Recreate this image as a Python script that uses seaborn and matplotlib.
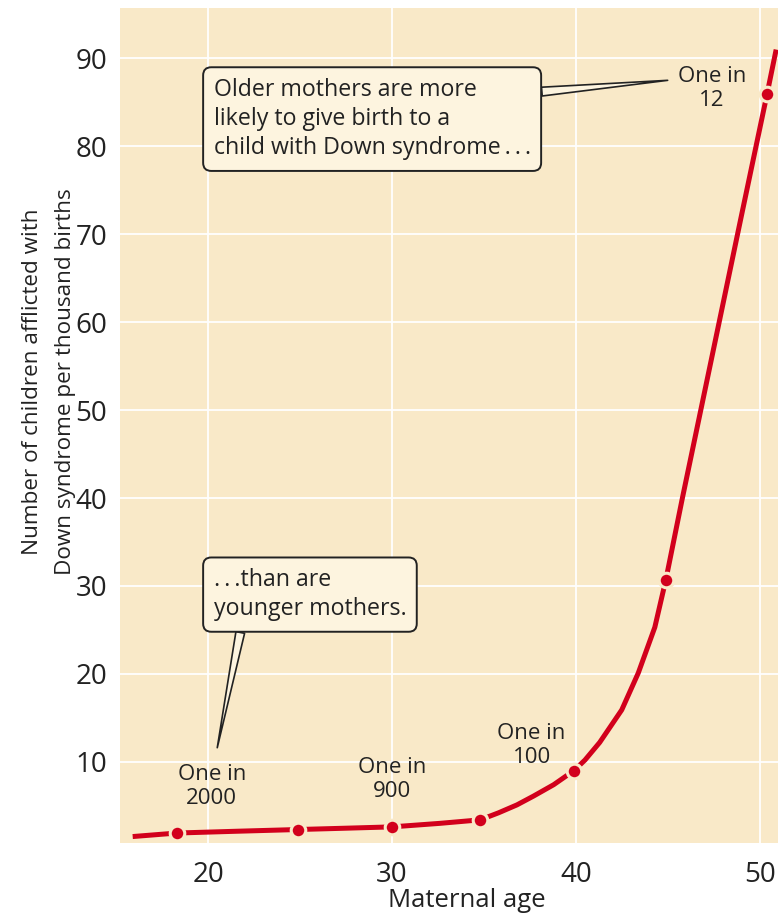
import matplotlib
matplotlib.use("Agg")
import matplotlib.pyplot as plt
import seaborn as sns
import pandas as pd

# curve (maternal age, cases per thousand births)
curve_age = [15.9, 18.3, 21.5, 24.9, 27.5, 30.0, 32.6, 34.8, 35.8, 36.8, 37.7,
             38.8, 39.9, 40.5, 41.3, 42.5, 43.4, 44.3, 44.9, 45.8, 46.8, 47.9,
             49.0, 50.4, 50.9]
curve_rate = [1.5, 1.9, 2.1, 2.3, 2.45, 2.6, 3.0, 3.4, 4.2, 5.1, 6.1,
              7.4, 9.0, 10.2, 12.2, 15.9, 20.1, 25.3, 30.7, 40.0, 50.0, 61.0,
              72.0, 85.9, 91.0]

# marked points on the curve
dot_age = [18.3, 24.9, 30.0, 34.8, 39.9, 44.9, 50.4]
dot_rate = [1.9, 2.3, 2.6, 3.4, 9.0, 30.7, 85.9]

# "One in ..." labels
odds_text = ["One in\n2000", "One in\n900", "One in\n100", "One in\n12"]
odds_x = [20.2, 30.0, 37.6, 47.4]
odds_y = [7.2, 8.0, 11.9, 86.6]

x_ticks = [20, 30, 40, 50]
y_ticks = [10, 20, 30, 40, 50, 60, 70, 80, 90]

BG = "#f9e9c8"
BOX = "#fdf4df"
RED = "#d2001c"
INK = "#222222"
DOTS = "\u2009.\u2009.\u2009."

sns.set_style("whitegrid", {"axes.facecolor": BG, "grid.color": "white",
                            "axes.edgecolor": BG})
plt.rcParams["font.family"] = ["Open Sans", "DejaVu Sans"]

curve = pd.DataFrame({"age": curve_age, "rate": curve_rate})
dots = pd.DataFrame({"age": dot_age, "rate": dot_rate})

fig = plt.figure(figsize=(7.78, 9.14), dpi=100)
ax = fig.add_axes([0.154, 0.078, 0.846, 0.913])

sns.lineplot(data=curve, x="age", y="rate", color=RED, linewidth=3.6,
             ax=ax, zorder=3, clip_on=False,
             solid_joinstyle="round", solid_capstyle="butt")
sns.scatterplot(data=dots, x="age", y="rate", color=RED, s=110,
                edgecolor=BG, linewidth=2.2, ax=ax, zorder=4, clip_on=False)

ax.set_xlim(15.2, 51.0)
ax.set_ylim(0.8, 95.7)
ax.set_xticks(x_ticks)
ax.set_yticks(y_ticks)
ax.grid(True, color="white", linewidth=1.3)
ax.tick_params(axis="both", length=0, labelsize=20, colors=INK)
ax.tick_params(axis="x", pad=13)
ax.tick_params(axis="y", pad=9)
for s in ax.spines.values():
    s.set_visible(False)

ax.set_xlabel("Maternal age", fontsize=18.5, color=INK)
ax.xaxis.set_label_coords(0.527, -0.054)
ax.set_ylabel("Number of children afflicted with\nDown syndrome per thousand births",
              fontsize=16.2, color=INK, linespacing=1.75)
ax.yaxis.set_label_coords(-0.066, 0.552)

for t, x, y in zip(odds_text, odds_x, odds_y):
    ax.text(x, y, t, ha="center", va="center", fontsize=16,
            color=INK, linespacing=1.2, zorder=5)

box_style = dict(boxstyle="round,pad=0.45,rounding_size=0.35", fc=BOX,
                 ec=INK, lw=1.4)
wedge = dict(arrowstyle="wedge,tail_width=0.38,shrink_factor=0.5", fc=BOX,
             ec=INK, lw=1.2, shrinkA=0, shrinkB=0)

ax.annotate("Older mothers are more\nlikely to give birth to a\nchild with Down syndrome" + DOTS,
            xy=(45.0, 87.5), xytext=(20.3, 87.8), textcoords="data",
            ha="left", va="top", fontsize=16.7, color=INK,
            linespacing=1.3, bbox=box_style, zorder=6,
            arrowprops=dict(wedge, relpos=(1.0, 0.82)))

ax.annotate(DOTS.lstrip("\u2009") + "than are\nyounger mothers.",
            xy=(20.5, 11.6), xytext=(20.3, 32.05), textcoords="data",
            ha="left", va="top", fontsize=16.7, color=INK,
            linespacing=1.3, bbox=box_style, zorder=6,
            arrowprops=dict(wedge, relpos=(0.15, 0.0)))

fig.savefig("out.png", dpi=100, facecolor="white")
